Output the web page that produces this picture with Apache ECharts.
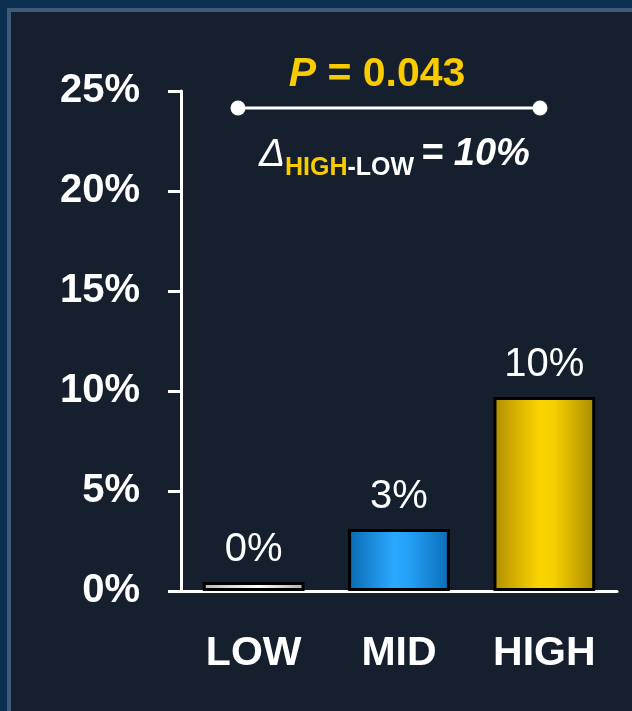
<!DOCTYPE html>
<html>
<head>
<meta charset="utf-8">
<script src="https://cdn.jsdelivr.net/npm/echarts@6/dist/echarts.min.js"></script>
<style>
  html, body { margin: 0; padding: 0; background: #0b2f4f; }
  #frame {
    position: absolute; left: 7px; top: 8px; width: 621px; height: 699px;
    border-left: 4px solid #3f5a7a; border-top: 4px solid #3f5a7a;
    background: #161f2e;
  }
  #charts { position: absolute; left: 0; top: 0; width: 632px; height: 711px; }
</style>
</head>
<body>
<div id="frame"></div>
<div id="charts"></div>
<script>
// data
const categories = ['LOW', 'MID', 'HIGH'];
const rates = [0.45, 3.1, 9.7];
const yTicks = { min: 0, max: 25, interval: 5 };
const pValue = '0.043';
const deltaText = '10%';

const font = 'Liberation Sans, Arial, sans-serif';

function grad(stops) {
  return new echarts.graphic.LinearGradient(0, 0, 1, 0,
    stops.map(s => ({ offset: s[0], color: s[1] })));
}

const barFills = [
  grad([[0, '#b8b8b8'], [0.55, '#ffffff'], [1, '#aeaeae']]),
  grad([[0, '#0a69b0'], [0.45, '#2aa9ff'], [0.6, '#25a0f5'], [1, '#0a6cb4']]),
  grad([[0, '#b08f00'], [0.45, '#fcd400'], [0.6, '#f5cf00'], [1, '#a98a00']])
];

const myChart = echarts.init(document.getElementById('charts'), null, { renderer: 'canvas' });

const option = {
  backgroundColor: 'transparent',
  animation: false,
  grid: { left: 181, right: 15, top: 91, bottom: 120 },
  xAxis: {
    type: 'category',
    data: categories,
    axisLine: { lineStyle: { color: '#fff', width: 3 } },
    axisTick: { length: 11, lineStyle: { color: '#fff', width: 3 } },
    axisLabel: {
      color: '#fff', fontFamily: font, fontWeight: 'bold', fontSize: 41, margin: 42
    }
  },
  yAxis: {
    type: 'value',
    min: yTicks.min,
    max: yTicks.max,
    interval: yTicks.interval,
    axisLine: { show: true, lineStyle: { color: '#fff', width: 3 } },
    axisTick: { show: true, length: 13, lineStyle: { color: '#fff', width: 3 } },
    splitLine: { show: false },
    axisLabel: {
      formatter: '{value}%',
      color: '#fff', fontFamily: font, fontWeight: 'bold', fontSize: 40, margin: 41,
      padding: [4, 0, 0, 0]
    }
  },
  series: [{
    type: 'bar',
    barWidth: '70%',
    data: rates.map((v, i) => ({ value: v, itemStyle: { color: barFills[i] } })),
    itemStyle: { borderColor: '#000', borderWidth: 3 },
    label: {
      show: true,
      position: 'top',
      distance: 12,
      color: '#fff',
      fontFamily: font,
      fontSize: 40,
      formatter: p => Math.round(p.value) + '%'
    }
  }],
  graphic: [
    {
      type: 'text', x: 377, y: 75,
      style: {
        text: '{i|P} = ' + pValue,
        fill: '#f9cc00', font: 'bold 41px ' + font,
        textAlign: 'center', textVerticalAlign: 'middle',
        rich: { i: { fontStyle: 'italic', fontWeight: 'bold', fontSize: 41, fontFamily: font, fill: '#f9cc00' } }
      }
    },
    {
      type: 'line',
      shape: { x1: 238, y1: 108, x2: 540, y2: 108 },
      style: { stroke: '#fff', lineWidth: 3 }
    },
    { type: 'circle', shape: { cx: 238, cy: 108, r: 7.5 }, style: { fill: '#fff' } },
    { type: 'circle', shape: { cx: 540, cy: 108, r: 7.5 }, style: { fill: '#fff' } },
    {
      type: 'text', x: 259, y: 155,
      style: {
        text: '\u0394', fill: '#fff', font: 'italic 39px ' + font,
        textAlign: 'left', textVerticalAlign: 'middle'
      }
    },
    {
      type: 'text', x: 285, y: 168,
      style: {
        text: '{y|HIGH}{w|-LOW}', font: 'bold 25px ' + font,
        textAlign: 'left', textVerticalAlign: 'middle',
        rich: {
          y: { fill: '#f9cc00', fontWeight: 'bold', fontSize: 25, fontFamily: font },
          w: { fill: '#fff', fontWeight: 'bold', fontSize: 25, fontFamily: font }
        }
      }
    },
    {
      type: 'text', x: 421, y: 155,
      style: {
        text: '= ' + deltaText, fill: '#fff', font: 'italic bold 38px ' + font,
        textAlign: 'left', textVerticalAlign: 'middle'
      }
    }
  ]
};

myChart.setOption(option);
</script>
</body>
</html>
